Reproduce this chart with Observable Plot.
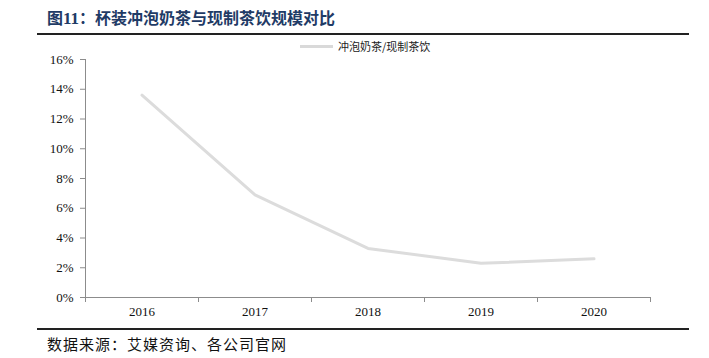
<!DOCTYPE html>
<html>
<head>
<meta charset="utf-8">
<script src="https://cdn.jsdelivr.net/npm/d3@7"></script>
<script src="https://cdn.jsdelivr.net/npm/@observablehq/plot@0.6"></script>
<style>
  html, body { margin: 0; padding: 0; background: #fff; }
  #wrap { position: relative; width: 709px; height: 358px; overflow: hidden; background: #fff; }
  #title { position: absolute; left: 47px; top: 6px; font-family: "Noto Sans CJK SC", "Liberation Serif", serif; font-weight: bold; font-size: 16px; line-height: 22px; color: #1f3b66; white-space: nowrap; }
  #title .num { font-family: "Liberation Serif", serif; font-size: 17px; }
  .rule { position: absolute; left: 37px; width: 652px; background: #222; }
  #legend { position: absolute; left: 300px; top: 38px; font-family: "Noto Sans CJK SC", sans-serif; font-size: 11px; line-height: 16px; color: #222; white-space: nowrap; display: flex; align-items: center; }
  #legend .sw { display: inline-block; width: 33px; height: 3px; background: #d9d9d9; margin-right: 5px; }
  #caption { position: absolute; left: 47px; top: 334px; font-family: "Noto Sans CJK SC", serif; font-size: 15px; line-height: 20px; color: #111; white-space: nowrap; letter-spacing: 1px; }
  #chart { position: absolute; left: 0; top: 0; }
</style>
</head>
<body>
<div id="wrap">
  <div id="chart"></div>
  <div id="title">图<span class="num">11</span>：杯装冲泡奶茶与现制茶饮规模对比</div>
  <div class="rule" style="top:33px;height:2px;"></div>
  <div id="legend"><span class="sw"></span><span id="legtext"></span></div>
  <div class="rule" style="top:328px;height:2px;"></div>
  <div id="caption">数据来源：艾媒资询、各公司官网</div>
</div>
<script>
const seriesName = "冲泡奶茶/现制茶饮";
const years = [2016, 2017, 2018, 2019, 2020];
const ratio = [13.6, 6.9, 3.3, 2.3, 2.6];
const yTicks = [0, 2, 4, 6, 8, 10, 12, 14, 16];

document.getElementById("legtext").textContent = seriesName;

const data = years.map((y, i) => ({year: y, value: ratio[i]}));
const lo = years[0] - 0.5, hi = years[years.length - 1] + 0.5;
const boundaries = years.map(y => y - 0.5).concat([hi]);

const axisColor = "#8c8c8c";
const chart = Plot.plot({
  width: 709,
  height: 358,
  marginLeft: 85,
  marginRight: 59,
  marginTop: 59,
  marginBottom: 61,
  style: { fontFamily: "'Liberation Serif', 'Times New Roman', serif", fontSize: "13px", color: "#111", background: "transparent" },
  x: { type: "linear", domain: [lo, hi] },
  y: { domain: [0, 16] },
  marks: [
    Plot.ruleX([lo], { y1: 0, y2: 16, stroke: axisColor, strokeWidth: 1 }),
    Plot.ruleY([0], { stroke: axisColor, strokeWidth: 1 }),
    Plot.axisY({ ticks: yTicks, tickFormat: d => d + "%", tickSize: 5, tickPadding: 7, stroke: axisColor, fill: "#111", label: null }),
    Plot.axisX({ ticks: boundaries, tickFormat: () => "", tickSize: 5, stroke: axisColor, label: null }),
    Plot.axisX({ ticks: years, tickFormat: d => String(d), tickSize: 0, tickPadding: 9, fill: "#111", label: null }),
    Plot.line(data, { x: "year", y: "value", stroke: "#dcdcdc", strokeWidth: 3, strokeLinejoin: "round", strokeLinecap: "round" })
  ]
});
document.getElementById("chart").appendChild(chart);
</script>
</body>
</html>
